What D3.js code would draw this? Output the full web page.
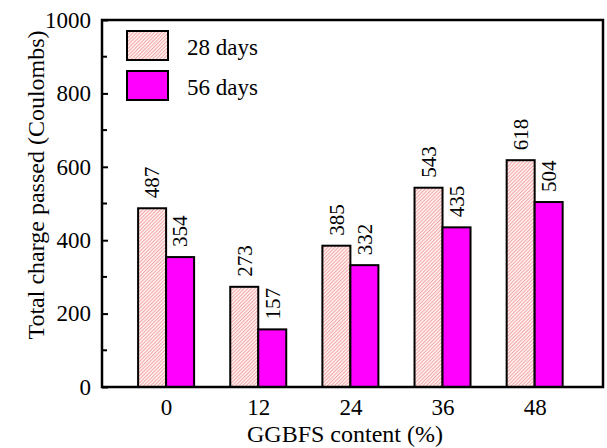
<!DOCTYPE html>
<html>
<head>
<meta charset="utf-8">
<script src="https://cdn.jsdelivr.net/npm/d3@7"></script>
<style>
  body { margin: 0; background: #fff; }
  svg text { font-family: "Liberation Serif", "Tinos", "Times New Roman", serif !important; }
</style>
</head>
<body>
<svg id="chart"></svg>
<script>
const contents = [0, 12, 24, 36, 48];
const days28 = [487, 273, 385, 543, 618];
const days56 = [354, 157, 332, 435, 504];
const seriesNames = ['28 days', '56 days'];
const yTicks = [0, 200, 400, 600, 800, 1000];

const width = 607,
  height = 448,
  margin = {top: 20, right: 4, bottom: 61, left: 102},
  plotW = width - margin.left - margin.right,
  plotH = height - margin.top - margin.bottom;

const svg = d3.select('#chart')
  .attr('width', width)
  .attr('height', height);

// fine pink hatch for the 28-day bars
const defs = svg.append('defs');
const pat = defs.append('pattern')
  .attr('id', 'hatch')
  .attr('patternUnits', 'userSpaceOnUse')
  .attr('width', 2.5)
  .attr('height', 2.5)
  .attr('patternTransform', 'rotate(45)');
pat.append('rect')
  .attr('width', 2.5).attr('height', 2.5)
  .attr('fill', '#fff4f4');
pat.append('rect')
  .attr('width', 1).attr('height', 2.5)
  .attr('fill', '#f5a3a3');

const g = svg.append('g')
  .attr('transform', `translate(${margin.left},${margin.top})`);

const x = d3.scaleLinear()
  .domain([-8.35, 56.9])
  .range([0, plotW]);

const y = d3.scaleLinear()
  .domain([0, 1000])
  .range([plotH, 0]);

const barW = 28;

const series = [
  {name: seriesNames[0], values: days28, fill: 'url(#hatch)', off: -barW},
  {name: seriesNames[1], values: days56, fill: '#ff00ff', off: 0}
];

series.forEach(s => {
  g.selectAll(null)
    .data(contents)
    .enter().append('rect')
    .attr('x', d => x(d) + s.off)
    .attr('y', (d, i) => y(s.values[i]))
    .attr('width', barW)
    .attr('height', (d, i) => plotH - y(s.values[i]))
    .attr('fill', s.fill)
    .attr('stroke', '#000')
    .attr('stroke-width', 2);

  g.selectAll(null)
    .data(contents)
    .enter().append('text')
    .attr('transform', (d, i) => `translate(${x(d) + s.off + barW / 2},${y(s.values[i]) - 10}) rotate(-90)`)
    .attr('dy', '0.35em')
    .style('font-size', '21px')
    .text((d, i) => s.values[i]);
});

// y axis: inward ticks, majors every 200, minors between
const yAxis = d3.axisLeft(y)
  .tickValues(yTicks)
  .tickFormat(d3.format('d'))
  .tickSize(-6)
  .tickPadding(11);
const yg = g.append('g').call(yAxis);
yg.select('.domain').remove();
yg.selectAll('line').attr('stroke', '#000').attr('stroke-width', 2);
yg.selectAll('text')
  .attr('fill', '#000')
  .style('font-size', '23px');

const minor = d3.range(100, 1000, 200);
g.selectAll('.minor')
  .data(minor)
  .enter().append('line')
  .attr('x1', 0).attr('x2', 5)
  .attr('y1', d => y(d)).attr('y2', d => y(d))
  .attr('stroke', '#000').attr('stroke-width', 2);

// x axis: labels only
const xAxis = d3.axisBottom(x)
  .tickValues(contents)
  .tickSize(0)
  .tickPadding(12);
const xg = g.append('g')
  .attr('transform', `translate(0,${plotH})`)
  .call(xAxis);
xg.select('.domain').remove();
xg.selectAll('text')
  .attr('fill', '#000')
  .style('font-size', '23px');

// frame
g.append('rect')
  .attr('width', plotW)
  .attr('height', plotH)
  .attr('fill', 'none')
  .attr('stroke', '#000')
  .attr('stroke-width', 2.5);

// axis titles
svg.append('text')
  .attr('x', 345)
  .attr('y', 442)
  .attr('text-anchor', 'middle')
  .style('font-size', '24px')
  .text('GGBFS content (%)');

svg.append('text')
  .attr('transform', 'translate(44,185) rotate(-90)')
  .attr('text-anchor', 'middle')
  .style('font-size', '24px')
  .text('Total charge passed (Coulombs)');

// legend
const legItem = svg.append('g').selectAll('g')
  .data(series)
  .enter().append('g')
  .attr('transform', (d, i) => `translate(127,${31 + i * 40})`);
legItem.append('rect')
  .attr('width', 41)
  .attr('height', 29)
  .attr('fill', d => d.fill)
  .attr('stroke', '#000')
  .attr('stroke-width', 2);
legItem.append('text')
  .attr('x', 60)
  .attr('y', 24)
  .style('font-size', '23px')
  .text(d => d.name);
</script>
</body>
</html>
